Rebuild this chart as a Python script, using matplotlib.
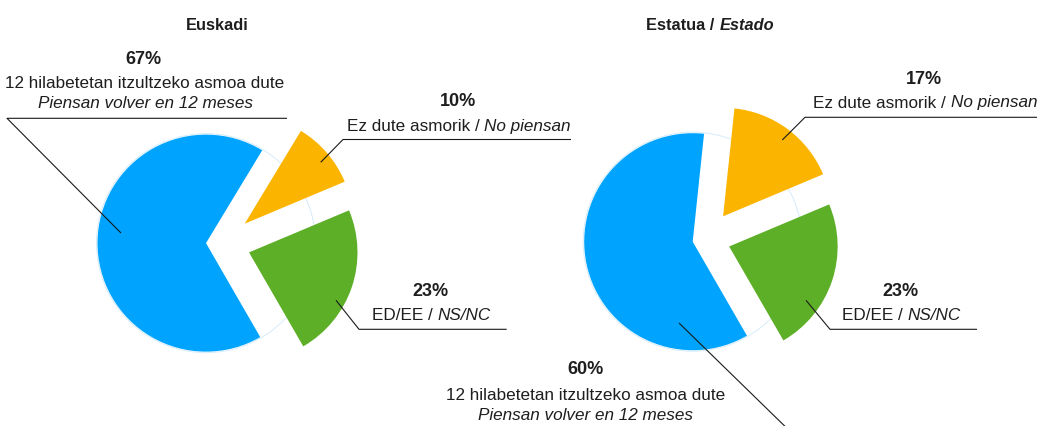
import matplotlib
matplotlib.use("Agg")
import matplotlib.pyplot as plt
import matplotlib.font_manager as fm
from matplotlib.patches import Circle
from matplotlib.offsetbox import TextArea, HPacker, AnnotationBbox

# ------------------------------------------------------------
# Data
# ------------------------------------------------------------
categories = ["12 hilabetetan itzultzeko asmoa dute", "Ez dute asmorik", "ED/EE"]
euskadi = [67, 10, 23]
estado = [60, 17, 23]
colors = ["#00a4ff", "#fbb500", "#5daf27"]

W, H = 1037, 426
TXT = "#1e1e1e"
BODY = "Liberation Sans"
R = 108.5

names = {f.name for f in fm.fontManager.ttflist}
if "Liberation Sans Narrow" in names:
    TITLE_FONT, TITLE_SIZE = "Liberation Sans Narrow", 13.5
else:
    TITLE_FONT, TITLE_SIZE = "Liberation Sans", 11.8


def sy(y):
    # screen pixel row -> data y
    return H - y


def label(ax, x, y, parts, size=12.3, weight="normal", family=BODY):
    boxes = []
    for txt, style in parts:
        boxes.append(TextArea(txt, textprops=dict(fontsize=size, fontstyle=style,
                                                   fontweight=weight, color=TXT,
                                                   family=family)))
    box = boxes[0] if len(boxes) == 1 else HPacker(children=boxes, sep=3.5, pad=0,
                                                   align="baseline")
    ab = AnnotationBbox(box, (x, sy(y)), xycoords="data", frameon=False,
                        box_alignment=(0.5, 0.5), pad=0)
    ax.add_artist(ab)


def leader(ax, xs, ys):
    ax.plot(xs, [sy(v) for v in ys], color="#1a1a1a", lw=0.8,
            solid_capstyle="butt", clip_on=False)


def draw_pie(ax, values, center, explode):
    # explode is in data units (= pixels here)
    wedges, _ = ax.pie(values, colors=colors, startangle=-60, counterclock=False,
                       explode=explode, radius=R, center=center,
                       wedgeprops=dict(linewidth=0))
    ghost = Circle(wedges[0].center, R + 1, fill=False, edgecolor="#d6ecfb",
                   lw=0.7, zorder=0)
    ax.add_patch(ghost)
    return wedges


fig = plt.figure(figsize=(W / 100, H / 100), dpi=100)
ax = fig.add_axes([0, 0, 1, 1])

draw_pie(ax, euskadi, (222, sy(243.3)), [16, 30, 28.5])
draw_pie(ax, estado, (706.4, sy(238.8)), [14, 28, 24])

ax.set_xlim(0, W)
ax.set_ylim(0, H)
ax.set_aspect("auto")
ax.axis("off")

# ---- titles
label(ax, 217, 25, [("Euskadi", "normal")], size=TITLE_SIZE, weight="bold",
      family=TITLE_FONT)
label(ax, 710, 25, [("Estatua /", "normal"), ("Estado", "italic")],
      size=TITLE_SIZE, weight="bold", family=TITLE_FONT)

# ---- Euskadi labels
label(ax, 143.5, 59, [(f"{euskadi[0]}%", "normal")], size=13, weight="bold")
label(ax, 145, 83, [(categories[0], "normal")])
label(ax, 145.5, 104, [("Piensan volver en 12 meses", "italic")])
leader(ax, [287, 7, 121], [118.3, 118.3, 233])

label(ax, 458, 101.5, [(f"{euskadi[1]}%", "normal")], size=13, weight="bold")
label(ax, 458.7, 126.5, [(categories[1] + " /", "normal"), ("No piensan", "italic")])
leader(ax, [571, 343, 320.7], [139.5, 139.5, 162.3])

label(ax, 430, 291, [(f"{euskadi[2]}%", "normal")], size=13, weight="bold")
label(ax, 431, 316, [(categories[2] + " /", "normal"), ("NS/NC", "italic")])
leader(ax, [506.7, 359, 336], [329.3, 329.3, 300.3])

# ---- Estado labels
label(ax, 923.7, 79, [(f"{estado[1]}%", "normal")], size=13, weight="bold")
label(ax, 925, 103, [(categories[1] + " /", "normal"), ("No piensan", "italic")])
leader(ax, [1037, 805, 782.3], [117.3, 117.3, 140])

label(ax, 900, 291, [(f"{estado[2]}%", "normal")], size=13, weight="bold")
label(ax, 901, 316, [(categories[2] + " /", "normal"), ("NS/NC", "italic")])
leader(ax, [977, 830, 806], [329.3, 329.3, 300.3])

label(ax, 585, 370, [(f"{estado[0]}%", "normal")], size=13, weight="bold")
label(ax, 585.5, 395, [(categories[0], "normal")])
label(ax, 586, 415, [("Piensan volver en 12 meses", "italic")])
leader(ax, [679, 799], [323, 440])

fig.savefig("out.png", dpi=100)
